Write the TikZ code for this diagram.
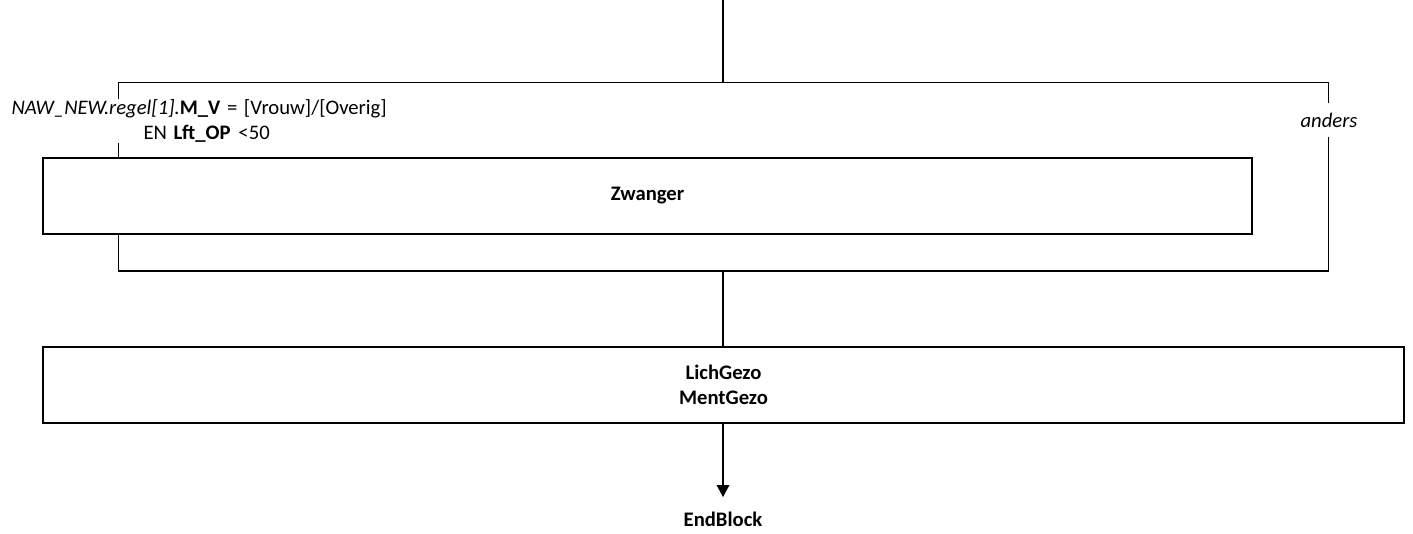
\documentclass[tikz,border=0pt]{standalone}
\usepackage{fontspec}
\setmainfont{Carlito}
\usetikzlibrary{arrows.meta}
\newcommand\diagfont{\fontsize{15.5}{18.5}\selectfont}
\begin{document}
\begin{tikzpicture}[x=0.75pt,y=-0.75pt,line width=0.8pt,
  box/.style={draw, fill=white, line width=0.9pt, inner sep=0pt, font=\diagfont\bfseries},
  lbl/.style={fill=white, inner xsep=0pt, font=\diagfont},
  conn/.style={draw, line width=0.8pt},
  arr/.style={conn, -{Triangle[length=9pt,width=9.5pt]}}]
\useasboundingbox (0,0) rectangle (1413,533);
% frame corners and junctions
\coordinate (top) at (723,0);
\coordinate (ftl) at (118.7,82.3);
\coordinate (ftr) at (1328.7,82.3);
\coordinate (fbr) at (1328.7,271);
\coordinate (fbl) at (118.7,271);
\coordinate (fjt) at (723,82.3);
\coordinate (fjb) at (723,271);
\draw[conn] (ftl) -- (ftr) -- (fbr) -- (fbl) -- cycle;
\draw[conn] (top) -- (fjt);
% labels on the frame
\node[lbl, anchor=west, align=left, inner ysep=0.5pt] (cond) at (11,121)
  {\textit{NAW\_NEW.regel[1].}\textbf{M\_V}\hspace{5pt}=\hspace{5pt}[Vrouw]/[Overig]\\\hspace*{99pt}EN\hspace{5pt}\textbf{Lft\_OP}\hspace{6pt}<50};
\node[lbl, inner xsep=2pt, inner ysep=7pt, font=\diagfont\itshape] (anders) at (1329,120) {anders};
% boxes
\node[box, minimum width=906.75pt, minimum height=57pt] (zw) at (647.5,196) {Zwanger};
\node[box, minimum width=1020.75pt, minimum height=57pt, align=center] (lg) at (723.5,385) {LichGezo\\MentGezo};
\node[font=\diagfont\bfseries, anchor=north, inner xsep=0pt, inner ysep=11pt] (eb) at (723,497) {EndBlock};
% connectors
\draw[conn] (fjb) -- (fjb |- lg.north);
\draw[arr] (lg.south -| eb.north) -- (eb.north);
\end{tikzpicture}
\end{document}
